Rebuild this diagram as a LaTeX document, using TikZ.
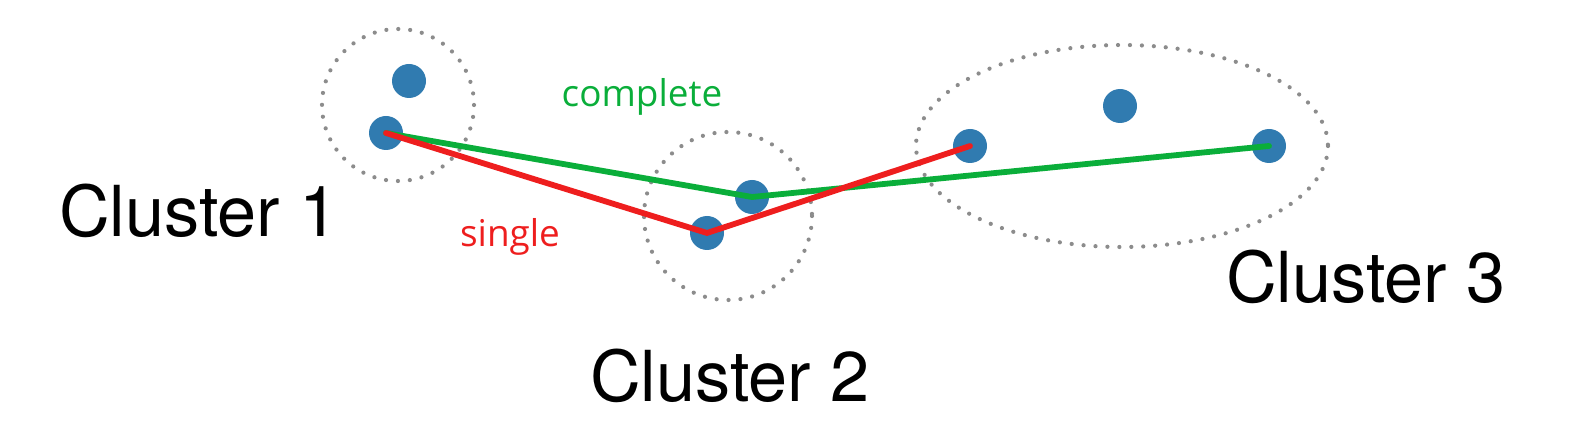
\documentclass[tikz,border=0pt]{standalone}
\usepackage{fontspec}
\setmainfont{TeX Gyre Heros}
\newfontfamily\labelfont{Open Sans}
\usetikzlibrary{shapes.geometric}

\definecolor{dotblue}{RGB}{48,123,176}
\definecolor{linkgreen}{RGB}{10,174,58}
\definecolor{linkred}{RGB}{238,30,30}
\definecolor{ringgray}{RGB}{140,140,140}

\tikzset{
  pt/.style={circle, fill=dotblue, inner sep=0pt, minimum size=0.68cm},
  ring/.style={ringgray, line width=2.4pt, line cap=round, dash pattern=on 0pt off 6.8pt},
  link/.style={line width=3.3pt, line join=miter, line cap=round},
  clname/.style={anchor=base, font=\fontsize{40}{45}\selectfont},
  linkname/.style={anchor=base, font=\labelfont\fontsize{21}{25}\selectfont}
}

\begin{document}
\begin{tikzpicture}[x=0.02cm,y=-0.02cm]
\useasboundingbox (0,0) rectangle (1584,448);
\draw[ring] (398,105) circle [radius=76];
\draw[ring] (728,216) circle [radius=84];
\draw[ring] (1122,146) ellipse [x radius=206, y radius=101];
\foreach \n/\x/\y in {a/409/81, b/386/133, c/752/197, d/707/233, e/970/146, f/1120/106, g/1269/146}
  \node[pt] (\n) at (\x,\y) {};
\draw[link, linkgreen] (b.center) -- (c.center) -- (g.center);
\draw[link, linkred] (b.center) -- (d.center) -- (e.center);
\node[linkname, text=linkgreen] (complete) at (642,107) {complete};
\node[linkname, text=linkred] (single) at (510,247) {single};
\node[clname] (cl1) at (199,237) {Cluster 1};
\node[clname] (cl2) at (730,402) {Cluster 2};
\node[clname] (cl3) at (1366,303) {Cluster 3};
\end{tikzpicture}
\end{document}
